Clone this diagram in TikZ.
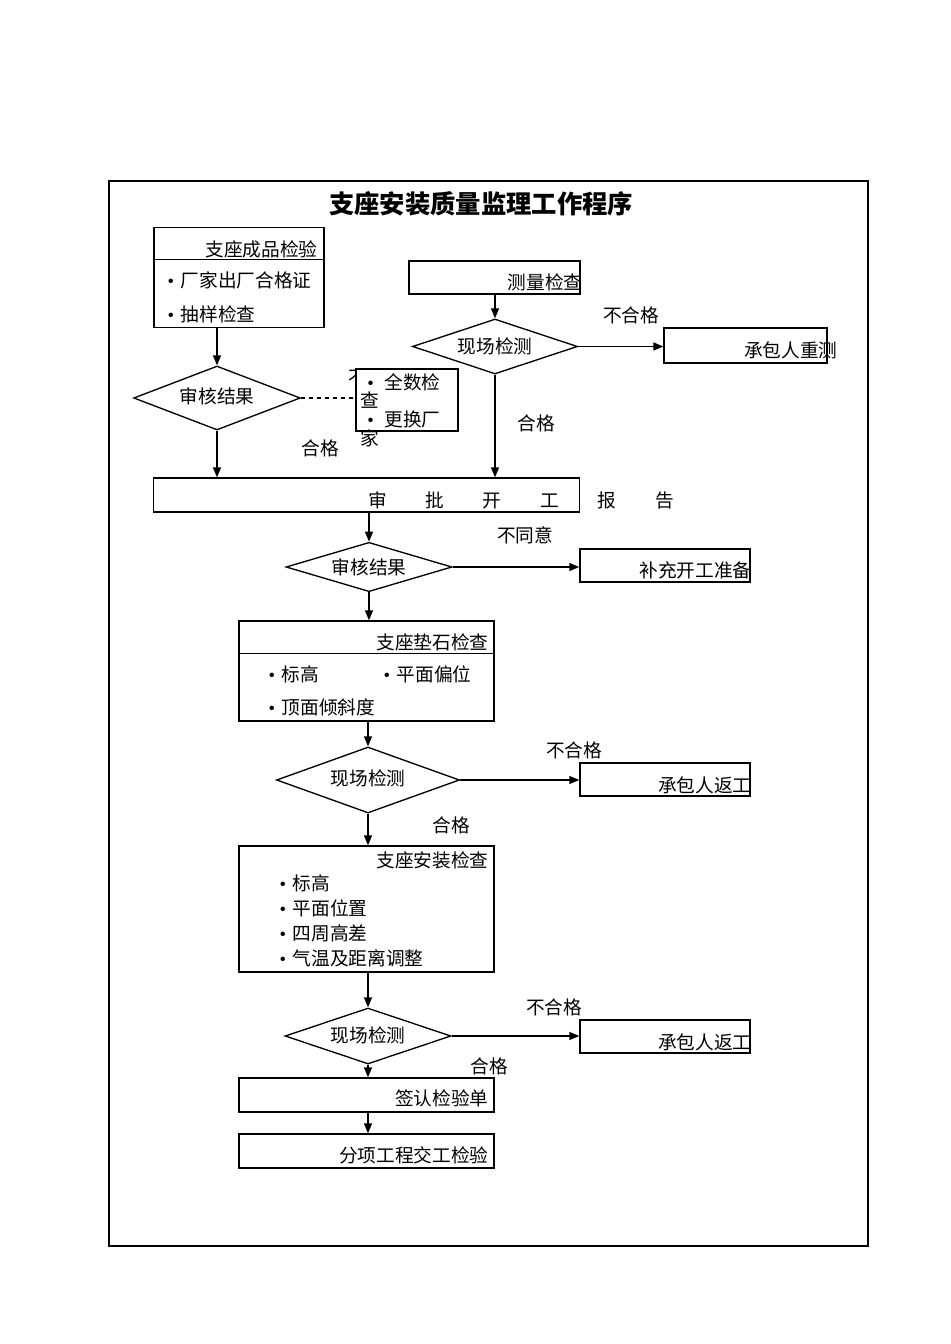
\documentclass[tikz,border=0pt]{standalone}
\usepackage{fontspec}
\setmainfont{Noto Sans CJK SC}
\newfontfamily\bulletfont{Liberation Serif}
\newcommand{\bul}{{\bulletfont •}}

\usetikzlibrary{shapes.geometric,arrows.meta}

\tikzset{every picture/.style={line width=1pt}}
\tikzset{
  box/.style={draw, rectangle, fill=white, inner sep=0pt},
  dia/.style={draw, diamond, aspect=3, inner sep=0pt, font=\fontsize{14pt}{14pt}\selectfont},
  txt/.style={inner sep=0pt, font=\fontsize{14pt}{14pt}\selectfont},
  arr/.style={-{Triangle[length=7.5pt,width=6pt]}}
}

\begin{document}
\begin{tikzpicture}[x=0.75pt,y=0.75pt,yscale=-1,xscale=1]
\useasboundingbox (0,0) rectangle (950,1344);

%Shape: Frame
\draw (109,181) rectangle (868,1246);
% Title
\node[txt, font=\fontsize{19pt}{19pt}\selectfont\bfseries] (title) at (481,204) {支座安装质量监理工作程序};

%Shape: Rectangle (product check)
\node[box, minimum width=127.5pt, minimum height=75pt] (cpj) at (239,277.5) {};
\draw ([yshift=24.75pt]cpj.north west) -- ([yshift=24.75pt]cpj.north east);
% Text Node
\node[txt, anchor=east] (cpjt) at (318,249) {支座成品检验};
\node[txt, anchor=west] (cpja) at (167,280) {\bul\hspace{5pt}厂家出厂合格证};
\node[txt, anchor=west] (cpjb) at (167,314) {\bul\hspace{5pt}抽样检查};

%Shape: Diamond
\node[dia, minimum width=125pt, minimum height=48pt] (sh1) at (217,398) {\raisebox{3pt}{审核结果}};

% hidden label and the extra check box
\node[txt] (bhg0) at (376,377) {不合格};
\node[box, minimum width=76.5pt, minimum height=46.5pt] (qs) at (407,400) {};
\node[txt, anchor=west, align=left] (qst) at (360,410) {\hspace{5pt}\bul\hspace{8pt}全数检\\查\\\hspace{5pt}\bul\hspace{8pt}更换厂\\家};

%Shape: Rectangle (survey)
\node[box, minimum width=128.25pt, minimum height=24.75pt] (clj) at (494.5,277.5) {};
\node[txt, anchor=east] (cljt) at (583,282) {测量检查};

%Shape: Diamond
\node[dia, minimum width=123.75pt, minimum height=41.25pt] (xc1) at (495,346.5) {\raisebox{1pt}{现场检测}};

\node[box, minimum width=122.25pt, minimum height=26.25pt] (cc) at (745.5,345.5) {};
\node[txt, anchor=east] (cct) at (838,350) {承包人重测};
\node[txt] (bhg1) at (631,315) {不合格};
\node[txt] (hg1) at (536,423) {合格};
\node[txt] (hg0) at (320,448) {合格};

%Shape: Rectangle (start report)
\node[box, minimum width=319.5pt, minimum height=25.5pt] (sp) at (366.5,495) {};
\node[txt] (spt) at (521,500) {审\hspace{29pt}批\hspace{29pt}开\hspace{29pt}工\hspace{29pt}报\hspace{29pt}告};

%Shape: Diamond
\node[dia, minimum width=124.5pt, minimum height=37pt] (sh2) at (369,567) {审核结果};
\node[txt] (bty) at (525,535) {不同意};
\node[box, minimum width=127.5pt, minimum height=24.75pt] (bc) at (665,565.5) {};
\node[txt, anchor=east] (bct) at (752,570) {补充开工准备};

%Shape: Rectangle (pad stone)
\node[box, minimum width=191.25pt, minimum height=75pt] (dsj) at (366.5,671) {};
\draw ([yshift=24.75pt]dsj.north west) -- ([yshift=24.75pt]dsj.north east);
\node[txt, anchor=east] (dsjt) at (489,642) {支座垫石检查};
\node[txt, anchor=west] (dsja) at (268,674) {\bul\hspace{5pt}标高};
\node[txt, anchor=west] (dsjb) at (383,674) {\bul\hspace{5pt}平面偏位};
\node[txt, anchor=west] (dsjc) at (268,707) {\bul\hspace{5pt}顶面倾斜度};

%Shape: Diamond
\node[dia, minimum width=137.25pt, minimum height=49.5pt] (xc2) at (368,780) {\raisebox{3pt}{现场检测}};
\node[txt] (bhg2) at (574,750) {不合格};
\node[box, minimum width=127.5pt, minimum height=24.75pt] (fg1) at (665,779.5) {};
\node[txt, anchor=east] (fg1t) at (752,785) {承包人返工};
\node[txt] (hg2) at (451,825) {合格};

%Shape: Rectangle (install check)
\node[box, minimum width=191.25pt, minimum height=94.5pt] (azj) at (366.5,909) {};
\node[txt, anchor=east] (azjt) at (489,860) {支座安装检查};
\node[txt, anchor=west] (azja) at (279,883) {\bul\hspace{5pt}标高};
\node[txt, anchor=west] (azjb) at (279,908) {\bul\hspace{5pt}平面位置};
\node[txt, anchor=west] (azjc) at (279,933) {\bul\hspace{5pt}四周高差};
\node[txt, anchor=west] (azjd) at (279,958) {\bul\hspace{5pt}气温及距离调整};

%Shape: Diamond
\node[dia, minimum width=124.5pt, minimum height=42pt] (xc3) at (368,1036) {\raisebox{2pt}{现场检测}};
\node[txt] (bhg3) at (554,1007) {不合格};
\node[box, minimum width=127.5pt, minimum height=24.75pt] (fg2) at (665,1036.5) {};
\node[txt, anchor=east] (fg2t) at (752,1042) {承包人返工};
\node[txt] (hg3) at (489,1066) {合格};

%Shape: Rectangle (sign)
\node[box, minimum width=191.25pt, minimum height=25.5pt] (qr) at (366.5,1095) {};
\node[txt, anchor=east] (qrt) at (489,1098) {签认检验单};
\node[box, minimum width=191.25pt, minimum height=25.5pt] (fx) at (366.5,1151) {};
\node[txt, anchor=east] (fxt) at (489,1155) {分项工程交工检验};

%Straight Lines
\draw[arr] (cpj.south -| sh1) -- (sh1.north);
\draw[dashed] (sh1.east) -- (qs.west |- sh1.east);
\draw[arr] (sh1.south) -- (sh1.south |- sp.north);
\draw[arr] (clj.south -| xc1) -- (xc1.north);
\draw[arr] (xc1.east) -- (cc.west |- xc1.east);
\draw[arr] (xc1.south) -- (xc1.south |- sp.north);
\draw[arr] (sp.south -| sh2) -- (sh2.north);
\draw[arr] (sh2.east) -- (bc.west |- sh2.east);
\draw[arr] (sh2.south) -- (sh2.south |- dsj.north);
\draw[arr] (dsj.south -| xc2) -- (xc2.north);
\draw[arr] (xc2.east) -- (fg1.west |- xc2.east);
\draw[arr] (xc2.south) -- (xc2.south |- azj.north);
\draw[arr] (azj.south -| xc3) -- (xc3.north);
\draw[arr] (xc3.east) -- (fg2.west |- xc3.east);
\draw[arr] (xc3.south) -- (xc3.south |- qr.north);
\draw[arr] (qr.south -| xc3) -- (xc3.south |- fx.north);

\end{tikzpicture}
\end{document}
